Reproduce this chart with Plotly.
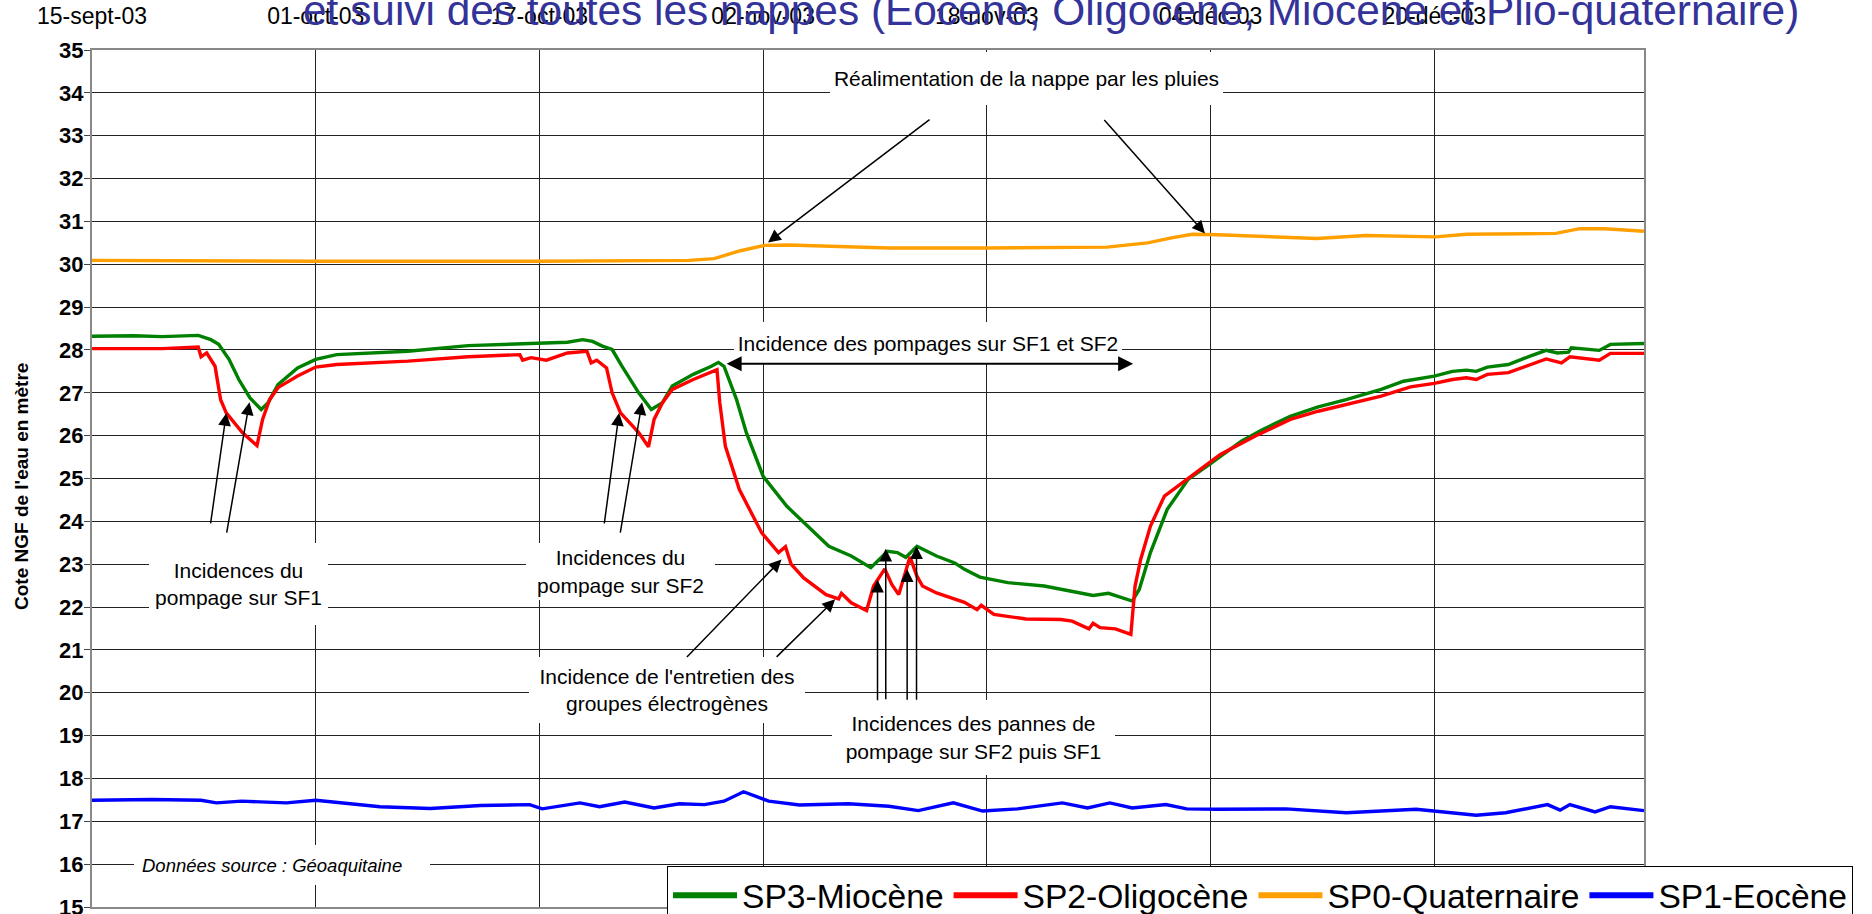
import pandas as pd
import plotly.graph_objects as go

START = pd.Timestamp("2003-09-15")
END = pd.Timestamp("2004-01-04")

tick_dates = ["2003-09-15", "2003-10-01", "2003-10-17", "2003-11-02",
              "2003-11-18", "2003-12-04", "2003-12-20"]
tick_labels = ["15-sept-03", "01-oct-03", "17-oct-03", "02-nov-03",
               "18-nov-03", "04-déc-03", "20-déc-03"]

# ---- Series (days after 15-sept-03, water level m NGF) ----
sp3_days = [0, 3, 5, 7.6, 8.5, 9.06, 9.8, 10.5, 11.3, 12.1, 12.6, 13.3, 14.7, 16.0, 17.5,
            22.6, 26.9, 31.1, 34, 35.1, 35.8, 36.5, 37.2, 37.9, 39.1, 40.0, 40.8, 41.5,
            43.0, 44.3, 44.8, 45.2, 46.1, 46.8, 48.0, 49.7, 50.7, 52.7, 54.3, 55.7, 56.3,
            56.9, 57.6, 58.2, 59.0, 60.4, 61.7, 62.4, 63.5, 65.5, 68.1, 70.6, 71.6, 72.7,
            73.9, 74.4, 74.9, 75.7, 76.9, 78.4, 80.1, 82.2, 83.7, 85.7, 87.7, 89.7, 92.2,
            93.8, 96.0, 97.3, 98.3, 99.0, 99.8, 101.3, 102.8, 104.0, 104.8, 105.6, 105.8,
            107.8, 108.6, 111.0]
sp3_vals = [28.32, 28.33, 28.31, 28.34, 28.24, 28.13, 27.78, 27.31, 26.88, 26.61, 26.77,
            27.19, 27.58, 27.78, 27.89, 27.97, 28.10, 28.15, 28.18, 28.24, 28.20, 28.09,
            28.01, 27.62, 27.00, 26.61, 26.77, 27.16, 27.43, 27.62, 27.71, 27.62, 26.84,
            26.07, 25.05, 24.35, 24.04, 23.42, 23.19, 22.92, 23.11, 23.30, 23.27, 23.16,
            23.42, 23.19, 23.03, 22.88, 22.70, 22.57, 22.49, 22.33, 22.27, 22.32, 22.18,
            22.14, 22.41, 23.27, 24.28, 24.98, 25.37, 25.87, 26.14, 26.45, 26.67, 26.84,
            27.08, 27.27, 27.39, 27.50, 27.53, 27.50, 27.60, 27.66, 27.85, 27.99, 27.93,
            27.95, 28.05, 27.99, 28.13, 28.15]

sp2_days = [0, 3, 5, 7.6, 7.8, 8.2, 8.8, 9.2, 9.6, 10.75, 11.8, 12.2, 12.7, 13.3, 14.7,
            16.0, 17.5, 22.6, 26.9, 30.6, 30.8, 31.4, 32.5, 34, 35.4, 35.7, 36.1, 36.8,
            37.2, 37.8, 39.1, 39.8, 40.2, 40.8, 41.5, 43.0, 44.5, 44.7, 44.9, 45.3, 46.3,
            47.9, 49.1, 49.6, 50.0, 50.9, 52.5, 53.4, 53.6, 54.3, 55.4, 55.9, 56.7, 57.2,
            57.7, 58.1, 58.5, 59.0, 59.4, 60.4, 61.7, 62.4, 63.3, 63.6, 64.5, 66.8, 69.3,
            70.1, 71.3, 71.6, 72.1, 73.2, 74.3, 74.6, 75.0, 75.7, 76.7, 78.3, 80.0, 80.7,
            83.2, 85.7, 87.7, 89.7, 92.2, 94.3, 96.0, 97.3, 98.3, 99.0, 99.8, 101.3, 102.8,
            104.0, 105.1, 105.7, 107.8, 108.6, 111.0]
sp2_vals = [28.03, 28.04, 28.03, 28.07, 27.84, 27.93, 27.62, 26.84, 26.53, 26.07, 25.77,
            26.38, 26.84, 27.12, 27.39, 27.60, 27.66, 27.74, 27.84, 27.89, 27.76, 27.82,
            27.76, 27.93, 27.97, 27.70, 27.76, 27.58, 27.00, 26.53, 26.07, 25.74, 26.38,
            26.77, 27.08, 27.31, 27.51, 27.54, 26.77, 25.75, 24.74, 23.73, 23.27, 23.41,
            23.00, 22.68, 22.29, 22.19, 22.32, 22.10, 21.92, 22.49, 22.89, 22.53, 22.29,
            22.72, 23.17, 22.72, 22.49, 22.33, 22.18, 22.11, 21.94, 22.04, 21.83, 21.72,
            21.71, 21.67, 21.49, 21.62, 21.52, 21.49, 21.36, 22.49, 23.11, 23.89, 24.59,
            24.98, 25.40, 25.56, 25.99, 26.38, 26.57, 26.73, 26.92, 27.14, 27.22, 27.31,
            27.35, 27.31, 27.43, 27.47, 27.64, 27.79, 27.70, 27.84, 27.76, 27.92, 27.92]

sp0_days = [0, 16, 32, 42.7, 44.5, 46.3, 48.1, 49.8, 57, 64.1, 72.6, 75.5, 77.3, 78.7,
            80.5, 87.6, 91.1, 96.1, 98.3, 104.7, 106.4, 108.2, 111.0]
sp0_vals = [30.09, 30.07, 30.07, 30.09, 30.13, 30.31, 30.44, 30.45, 30.38, 30.38, 30.40,
            30.50, 30.62, 30.70, 30.69, 30.60, 30.67, 30.64, 30.70, 30.72, 30.83, 30.83,
            30.77]

sp1_days = [0, 4.3, 7.8, 8.9, 10.7, 13.9, 16, 18.5, 20.6, 24.2, 27.8, 31.3, 32.2, 34.9,
            36.3, 38.1, 40.2, 42, 43.8, 45.2, 46.6, 48.4, 50.6, 54.1, 57, 59.1, 61.6,
            63.7, 66.2, 69.4, 71.2, 72.8, 74.4, 76.8, 78.3, 80.5, 85.4, 89.7, 94.7, 99,
            101.1, 104.1, 105, 105.7, 107.5, 108.6, 111.0]
sp1_vals = [17.49, 17.51, 17.49, 17.43, 17.47, 17.43, 17.49, 17.41, 17.34, 17.30, 17.37,
            17.39, 17.29, 17.43, 17.34, 17.45, 17.31, 17.41, 17.39, 17.47, 17.69, 17.47,
            17.38, 17.41, 17.35, 17.25, 17.43, 17.24, 17.29, 17.43, 17.31, 17.43, 17.31,
            17.39, 17.29, 17.28, 17.29, 17.20, 17.28, 17.14, 17.20, 17.39, 17.26, 17.39,
            17.22, 17.34, 17.25]

# arrow heads (day, level) and tail offsets (px)
arrow_days = [48.35, 79.6, 9.61, 11.26, 37.7, 39.34, 49.31, 53.15, 56.18, 56.77, 58.3, 58.97]
arrow_vals = [30.51, 30.72, 26.53, 26.78, 26.53, 26.78, 23.11, 22.18, 22.64, 23.36, 22.88, 23.42]
arrow_dx = [163, -102, -16, -23, -15, -22, -96, -60, 0, 0, 0, 0]
arrow_dy = [-124, -115, 112, 132, 112, 132, 99, 59, 122, 152, 132, 155]


def to_dates(days):
    return [START + pd.Timedelta(days=d) for d in days]


W, H = 1872, 914
ML, MR, MT, MB = 92, 228, 50, 7
PW, PH = W - ML - MR, H - MT - MB


def px(x):
    return (x - ML) / PW


def py(y):
    return (H - MB - y) / PH


FONT = "Liberation Sans, Arial, sans-serif"

fig = go.Figure()
series = [("SP3-Miocène", sp3_days, sp3_vals, "#008000"),
          ("SP2-Oligocène", sp2_days, sp2_vals, "#FF0000"),
          ("SP0-Quaternaire", sp0_days, sp0_vals, "#FFA000"),
          ("SP1-Eocène", sp1_days, sp1_vals, "#0000FF")]
for name, d, v, c in series:
    fig.add_trace(go.Scatter(x=to_dates(d), y=v, mode="lines", name=name,
                             line=dict(color=c, width=3.4), showlegend=False,
                             legendgroup=name))
# legend entries (thicker line samples, no data)
for name, d, v, c in series:
    fig.add_trace(go.Scatter(x=[None], y=[None], mode="lines", name=name,
                             line=dict(color=c, width=6), legendgroup=name,
                             hoverinfo="skip"))

ann = []
# title (partly cut at top)
ann.append(dict(text="et suivi des toutes les nappes (Eocène, Oligocène, Miocène et Plio-quaternaire)",
                xref="paper", yref="paper", x=px(1051), y=py(36), xanchor="center",
                yanchor="bottom", showarrow=False,
                font=dict(family=FONT, size=42.4, color="#333399")))
# y axis title
ann.append(dict(text="<b>Cote NGF de l'eau en mètre</b>", xref="paper", yref="paper",
                x=px(22), y=py(487), xanchor="center", yanchor="middle",
                textangle=-90, showarrow=False,
                font=dict(family=FONT, size=19, color="black")))

boxes = [
    ("Réalimentation de la nappe par les pluies", 1026, 78.5, 393, 53),
    ("Incidence des pompages sur SF1 et SF2", 928, 343, 388, 42),
    ("Incidences du<br>pompage sur SF1", 238, 584, 179, 82),
    ("Incidences du<br>pompage sur SF2", 620, 571.5, 189, 57),
    ("Incidence de l'entretien des<br>groupes électrogènes", 667, 690, 276, 66),
    ("Incidences des pannes de<br>pompage sur SF2 puis SF1", 973, 737.5, 283, 75),
]
for t, cx, cy, w, h in boxes:
    ann.append(dict(text=t, xref="paper", yref="paper",
                    x=px(cx), y=py(cy), xanchor="center", yanchor="middle",
                    width=w, height=h, bgcolor="white", borderpad=0, borderwidth=0,
                    showarrow=False, align="center", valign="middle",
                    font=dict(family=FONT, size=21, color="black")))
ann.append(dict(text="<i>Données source : Géoaquitaine</i>", xref="paper", yref="paper",
                x=px(282), y=py(864.5), xanchor="center", yanchor="middle",
                width=280, height=24, bgcolor="white", borderpad=8, borderwidth=0,
                showarrow=False, align="left", valign="middle",
                font=dict(family=FONT, size=18.5, color="black")))

arrow_dates = to_dates(arrow_days)
for xd, yv, dx, dy in zip(arrow_dates, arrow_vals, arrow_dx, arrow_dy):
    ann.append(dict(text="", x=xd, y=yv, xref="x", yref="y", ax=dx, ay=dy,
                    showarrow=True, arrowhead=2, arrowsize=1.7, arrowwidth=1.5,
                    arrowcolor="black", standoff=0))
# double arrow
ann.append(dict(text="", x=START + pd.Timedelta(days=74.46), y=27.68, xref="x", yref="y",
                ax=-408, ay=0, showarrow=True, arrowhead=2, startarrowhead=2,
                arrowside="end+start", arrowsize=1.5, startarrowsize=1.5,
                arrowwidth=2, arrowcolor="black", standoff=0, startstandoff=0))

fig.update_layout(
    width=W, height=H,
    margin=dict(l=ML, r=MR, t=MT, b=MB, pad=0, autoexpand=False),
    paper_bgcolor="white", plot_bgcolor="white",
    font=dict(family=FONT, color="black"),
    showlegend=True,
    legend=dict(orientation="h", x=px(667), xanchor="left", y=py(866), yanchor="top",
                bgcolor="white", bordercolor="black", borderwidth=1,
                font=dict(family=FONT, size=33.6), itemwidth=64,
                traceorder="normal"),
    annotations=ann,
    xaxis=dict(type="date", side="top", range=[START, END], automargin=False,
               tickvals=tick_dates, ticktext=tick_labels,
               tickfont=dict(family=FONT, size=23, color="black"),
               ticks="outside", ticklen=15, tickcolor="rgba(0,0,0,0)",
               ticklabeloverflow="allow",
               showgrid=True, gridcolor="#222", gridwidth=1,
               showline=True, linecolor="#888", linewidth=2, mirror=True,
               zeroline=False),
    yaxis=dict(range=[15, 35], dtick=1, tick0=15, automargin=False,
               tickfont=dict(family=FONT, size=22, color="black", weight="bold"),
               ticks="outside", ticklen=6, tickcolor="#444",
               ticklabelstandoff=-4, ticklabeloverflow="allow",
               showgrid=True, gridcolor="#222", gridwidth=1,
               showline=True, linecolor="#888", linewidth=2, mirror=True,
               zeroline=False),
)

fig.write_html("out.html", config={"displayModeBar": False},
               post_script="document.body.style.margin='0px';"
                           "document.body.style.padding='0px';"
                           "document.body.style.overflow='hidden';")
